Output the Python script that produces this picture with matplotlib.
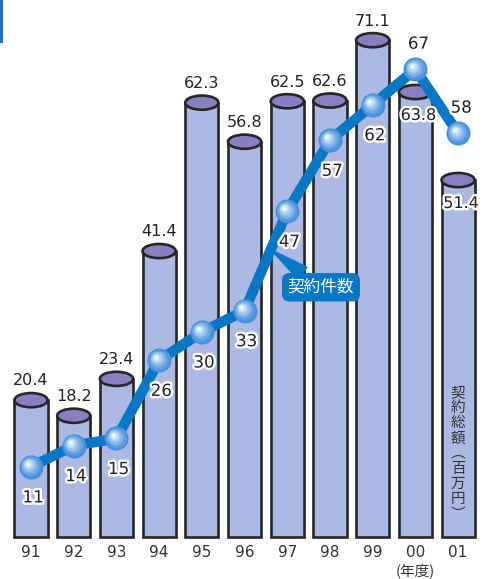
import matplotlib
matplotlib.use("Agg")
import matplotlib.pyplot as plt
import matplotlib.patheffects as pe
from matplotlib.patches import Rectangle, Ellipse
from matplotlib.transforms import offset_copy
import numpy as np

plt.rcParams['font.family'] = ['DejaVu Sans', 'Noto Sans CJK JP']

years = ["91", "92", "93", "94", "95", "96", "97", "98", "99", "00", "01"]
amounts = [20.4, 18.2, 23.4, 41.4, 62.3, 56.8, 62.5, 62.6, 71.1, 63.8, 51.4]
counts = [11, 14, 15, 26, 30, 33, 47, 57, 62, 67, 58]
amount_label_below = [False, False, False, False, False, False, False, False, False, True, True]
count_label_above = [False, False, False, False, False, False, False, False, False, True, True]

line_title = "契約件数"
bar_title = ["契", "約", "総", "額", "︵", "百", "万", "円", "︶"]
year_unit = "(年度)"

BODY = "#acb9e2"
TOP = "#877fc0"
EDGE = "#262626"
BLUE = "#0877c6"

fig = plt.figure(figsize=(4.88, 5.79), dpi=100)
ax = fig.add_axes([0, 0, 1, 1])
ax.set_xlim(-0.726, 10.70)
ax.set_ylim(-4.79, 76.76)
ax.axis("off")

base = 1.13
w = 0.775
eh = 2.0
x = np.arange(len(years))

for i, v in enumerate(amounts):
    ax.add_patch(Rectangle((i - w / 2, base), w, v - base, fc=BODY, ec=EDGE, lw=1.9, zorder=2))
    ax.add_patch(Ellipse((i, v), w, eh, fc=TOP, ec=EDGE, lw=1.9, zorder=3))

# line
ax.plot(x, counts, color=BLUE, lw=7.5, zorder=4, solid_capstyle="round")

# sphere markers
n = 10
base_col = np.array([0.27, 0.56, 0.87])
for k in range(n):
    t = k / (n - 1)
    col = base_col * (1 - t ** 1.3) + np.array([0.97, 0.99, 1.0]) * t ** 1.3
    s = 300 * (1 - 0.88 * t) ** 2
    tr = offset_copy(ax.transData, fig=fig, x=-2.6 * t, y=2.6 * t, units="points")
    ax.scatter(x, counts, s=s, color=col, transform=tr, zorder=5 + k * 0.01, linewidths=0)

halo = [pe.withStroke(linewidth=3.5, foreground="white")]

# bar value labels
for i, v in enumerate(amounts):
    if amount_label_below[i]:
        ax.text(i + 0.07, v - 3.3, f"{v:.1f}", ha="center", va="center", fontsize=11.5,
                color="#222222", path_effects=halo, zorder=7)
    else:
        ax.text(i, v + 2.7, f"{v:.1f}", ha="center", va="center", fontsize=11.5,
                color="#222222", zorder=7)

# count labels
for i, c in enumerate(counts):
    if count_label_above[i]:
        ax.text(i + 0.07, c + 3.6, str(c), ha="center", va="center", fontsize=12,
                color="#222222", path_effects=halo, zorder=7)
    else:
        ax.text(i + 0.05, c - 4.3, str(c), ha="center", va="center", fontsize=12,
                color="#222222", path_effects=halo, zorder=7)

# callout
ax.annotate(line_title, xy=(5.62, 41.6), xytext=(6.79, 36.3),
            ha="center", va="center", fontsize=12, color="white",
            family=["Noto Sans CJK JP"],
            bbox=dict(boxstyle="round,pad=0.3,rounding_size=0.4", fc=BLUE, ec=BLUE),
            arrowprops=dict(arrowstyle="wedge,tail_width=0.9,shrink_factor=0.5", fc=BLUE, ec=BLUE,
                            shrinkA=0, shrinkB=0),
            zorder=8)

# vertical text in last bar
ax.text(10, 12.9, "\n".join(bar_title), ha="center", va="center", fontsize=10.5,
        color="#333333", family=["Noto Sans CJK JP"], linespacing=1.1, zorder=7)

# x tick labels
for i, yl in enumerate(years):
    ax.text(i, -1.0, yl, ha="center", va="center", fontsize=11, color="#333333")
ax.text(9, -3.6, year_unit, ha="center", va="center", fontsize=10.5, color="#333333",
        family=["Noto Sans CJK JP"])

# small blue accent at top-left
fig.patches.append(Rectangle((0, 1 - 43 / 579), 2.5 / 488, 43 / 579, transform=fig.transFigure,
                             fc="#1a70c4", ec="none"))

fig.savefig("out.png", dpi=100)
